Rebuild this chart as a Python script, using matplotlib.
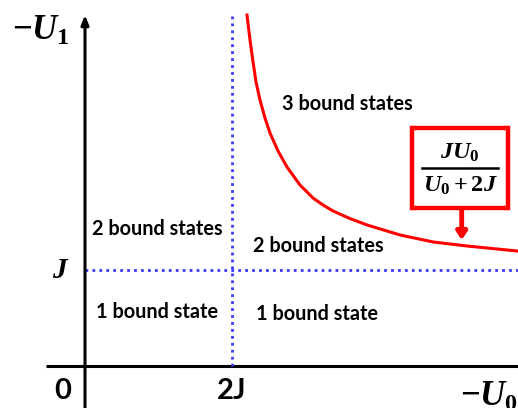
import matplotlib
matplotlib.use("Agg")
import matplotlib.pyplot as plt
from matplotlib.patches import Rectangle

# ---- data (units of J) ----
curve_x = [2.204, 2.245, 2.286, 2.327, 2.381, 2.449, 2.517, 2.626, 2.748, 2.925,
           3.102, 3.238, 3.374, 3.605, 3.837, 4.286, 4.735, 5.197, 5.878]
curve_y = [3.656, 3.396, 3.167, 2.958, 2.771, 2.583, 2.427, 2.240, 2.073, 1.885,
           1.750, 1.677, 1.615, 1.536, 1.469, 1.365, 1.292, 1.250, 1.198]
x_ticks = [0, 2]
x_tick_labels = ["0", "2J"]
y_level = 1
region_labels = ["2 bound states", "1 bound state", "3 bound states",
                 "2 bound states", "1 bound state"]

plt.rcParams['mathtext.fontset'] = 'custom'
plt.rcParams['mathtext.rm'] = 'Liberation Serif:bold'
plt.rcParams['mathtext.it'] = 'Liberation Serif:bold:italic'
plt.rcParams['mathtext.bf'] = 'Liberation Serif:bold'

W, H = 518, 408
fig = plt.figure(figsize=(W / 100, H / 100), dpi=100)
ax = fig.add_axes([0, 0, 1, 1])
ax.axis('off')

OX, OY, SX, SY = 85, 366, 73.5, 96.0
def P(px, py):
    return ((px - OX) / SX, (OY - py) / SY)

ax.set_xlim(P(0, 0)[0], P(W, 0)[0])
ax.set_ylim(P(0, H)[1], P(0, 0)[1])

ytop = P(0, 15)[1]
# axes
ax.plot([P(46, 0)[0], P(W, 0)[0]], [0, 0], color='black', lw=2.2, solid_capstyle='butt')
ax.annotate('', xy=(0, ytop), xytext=(0, P(0, H)[1]),
            arrowprops=dict(arrowstyle='-|>,head_width=0.22,head_length=0.55',
                            lw=2.2, color='black', shrinkA=0, shrinkB=0))

blue = '#3a3aff'
ax.plot([x_ticks[1], x_ticks[1]], [0, ytop], color=blue, lw=2, linestyle=(0, (1, 1.5)))
ax.plot([0, P(W, 0)[0]], [y_level, y_level], color=blue, lw=2, linestyle=(0, (1, 1.5)))

ax.plot(curve_x, curve_y, color='red', lw=2.2, solid_joinstyle='round')

# labels
lab = dict(fontsize=14.3, fontweight='bold', family='Lato', ha='center', va='center')
pos = [(157.5, 229), (157, 312), (347, 104), (318, 245.5), (317.5, 314)]
for t, (px, py) in zip(region_labels, pos):
    ax.text(*P(px, py), t, **lab)

tick = dict(fontsize=21, fontweight='bold', family='Lato', ha='center', va='center')
ax.text(*P(63, 391), x_tick_labels[0], **tick)
ax.text(*P(232, 391), x_tick_labels[1], **tick)
ax.text(*P(61, 270), r'$J$', fontsize=21, ha='center', va='center')
ax.text(*P(12, 30), r'$-U_1$', fontsize=25, ha='left', va='center')
ax.text(*P(460, 396), r'$-U_0$', fontsize=25, ha='left', va='center', clip_on=False)

# formula box
x0, y0 = P(411.7, 208.3)
x1, y1 = P(508.3, 128.3)
ax.add_patch(Rectangle((x0, y0), x1 - x0, y1 - y0, fill=True, facecolor='white',
                       edgecolor='red', lw=3.2))
ax.plot([P(421.7, 0)[0], P(498, 0)[0]], [P(0, 168.3)[1]] * 2, color='black', lw=1.8)
ax.text(*P(460, 152), r'$JU_0$', fontsize=17.5, ha='center', va='center')
ax.text(*P(460, 185), r'$U_0+2J$', fontsize=17.5, ha='center', va='center')
ax.annotate('', xy=P(461.7, 240), xytext=P(461.7, 209.5),
            arrowprops=dict(arrowstyle='-|>,head_width=0.3,head_length=0.45',
                            lw=3.5, color='red', shrinkA=0, shrinkB=0))

fig.savefig('out.png', dpi=100)
